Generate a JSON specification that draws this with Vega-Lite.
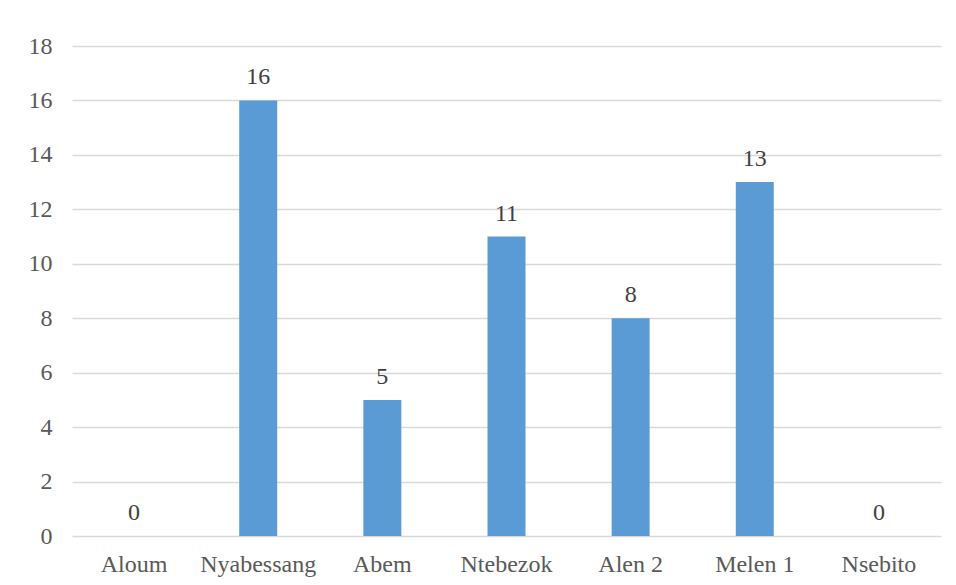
{
  "$schema": "https://vega.github.io/schema/vega-lite/v6.json",
  "autosize": {"type": "none"},
  "padding": {"left": 72, "top": 46, "right": 15, "bottom": 49},
  "width": 869,
  "height": 490,
  "background": "white",
  "config": {
    "view": {"stroke": null},
    "font": "Liberation Serif, Times New Roman, serif",
    "axis": {
      "labelFont": "Liberation Serif, Times New Roman, serif",
      "labelFontSize": 24,
      "labelColor": "#595959",
      "gridColor": "#d9d9d9",
      "gridWidth": 1.3,
      "domain": false,
      "ticks": false,
      "title": null
    }
  },
  "data": {
    "values": [
      {"site": "Aloum", "count": 0},
      {"site": "Nyabessang", "count": 16},
      {"site": "Abem", "count": 5},
      {"site": "Ntebezok", "count": 11},
      {"site": "Alen 2", "count": 8},
      {"site": "Melen 1", "count": 13},
      {"site": "Nsebito", "count": 0}
    ]
  },
  "encoding": {
    "x": {
      "field": "site",
      "type": "nominal",
      "sort": null,
      "scale": {"paddingInner": 0.694, "paddingOuter": 0.347},
      "axis": {"labelAngle": 0, "labelPadding": 16, "grid": false}
    },
    "y": {
      "field": "count",
      "type": "quantitative",
      "scale": {"domain": [0, 18]},
      "axis": {"values": [0, 2, 4, 6, 8, 10, 12, 14, 16, 18], "labelPadding": 20, "grid": true}
    }
  },
  "layer": [
    {"mark": {"type": "bar", "color": "#5b9bd5"}},
    {
      "mark": {
        "type": "text",
        "baseline": "alphabetic",
        "dy": -16,
        "fontSize": 24,
        "color": "#404040",
        "font": "Liberation Serif, Times New Roman, serif"
      },
      "encoding": {"text": {"field": "count", "type": "quantitative"}}
    }
  ]
}
